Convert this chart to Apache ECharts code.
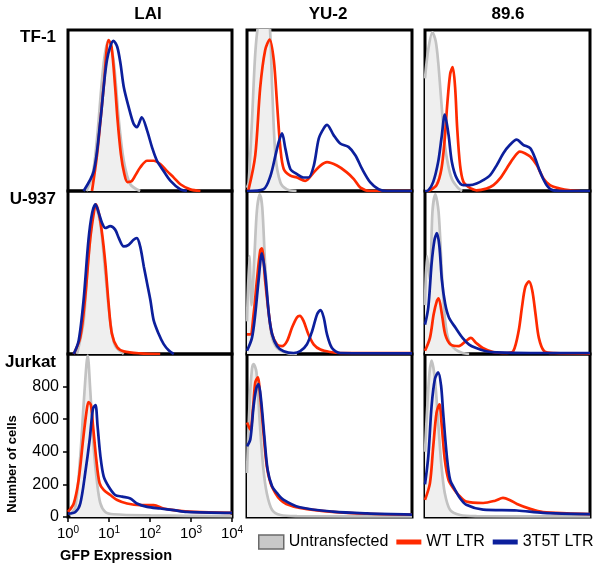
<!DOCTYPE html>
<html>
<head>
<meta charset="utf-8">
<script src="https://cdn.jsdelivr.net/npm/echarts@6/dist/echarts.min.js"></script>
<style>
html,body{margin:0;padding:0;background:#fff;}
#chart{width:600px;height:565px;}
</style>
</head>
<body>
<div id="chart"></div>
<script>
// ---- labels / ticks ----
const columns = ['LAI', 'YU-2', '89.6'];
const rows = ['TF-1', 'U-937', 'Jurkat'];
const seriesNames = ['Untransfected', 'WT LTR', '3T5T LTR'];
const xTicks = [0, 1, 2, 3, 4];           // log10 of GFP expression (10^0 .. 10^4)
const yTicks = [0, 200, 400, 600, 800];   // number of cells

// ---- data: [log10(GFP), number of cells] ----
// TF-1
const tf1_lai_untr = [[0.45,0],[0.6,100],[0.71,333],[0.87,792],[0.99,937],[1.11,813],[1.24,438],[1.36,188],[1.52,42],[1.76,0]];
const tf1_lai_wt = [[0.585,0],[0.71,229],[0.87,646],[0.99,937],[1.06,900],[1.15,646],[1.21,438],[1.29,229],[1.37,110],[1.45,55],[1.55,60],[1.65,100],[1.76,146],[1.93,188],[2.09,188],[2.25,167],[2.41,125],[2.58,83],[2.74,42],[2.98,10],[3.23,0]];
const tf1_lai_3t5t = [[0.38,0],[0.63,125],[0.79,438],[0.95,813],[1.11,933],[1.2,896],[1.28,792],[1.36,646],[1.48,521],[1.6,417],[1.68,396],[1.8,458],[1.93,375],[2.05,271],[2.17,188],[2.33,125],[2.5,63],[2.74,10],[2.9,0]];

const tf1_yu2_untr = [[0,20],[0.04,53],[0.12,432],[0.2,853],[0.28,1050],[0.4,1150],[0.53,1100],[0.61,640],[0.69,221],[0.81,53],[0.97,10],[1.2,0]];
const tf1_yu2_wt = [[0,5],[0.04,11],[0.2,221],[0.32,642],[0.44,874],[0.55,941],[0.65,811],[0.73,537],[0.81,263],[0.89,137],[1.05,95],[1.21,84],[1.41,63],[1.62,116],[1.78,158],[1.94,179],[2.18,158],[2.42,116],[2.59,74],[2.75,21],[2.99,0],[4,0]];
const tf1_yu2_3t5t = [[0,0],[0.4,11],[0.57,95],[0.69,221],[0.77,305],[0.85,358],[0.93,263],[1.05,137],[1.21,105],[1.37,84],[1.49,84],[1.62,158],[1.74,326],[1.86,389],[1.94,411],[2.1,347],[2.26,295],[2.46,274],[2.63,221],[2.79,137],[2.99,53],[3.19,11],[3.39,0],[4,0]];

const tf1_896_untr = [[0,700],[0.08,880],[0.18,985],[0.26,930],[0.32,800],[0.4,540],[0.48,290],[0.57,150],[0.66,70],[0.8,20],[0.9,0]];
const tf1_896_wt = [[0.05,0],[0.12,4],[0.28,36],[0.4,140],[0.48,329],[0.54,539],[0.61,727],[0.67,769],[0.73,644],[0.78,392],[0.85,161],[0.93,57],[1.05,25],[1.25,4],[1.49,15],[1.66,36],[1.82,78],[1.98,140],[2.14,203],[2.3,245],[2.42,235],[2.55,214],[2.71,161],[2.87,78],[3.03,36],[3.27,15],[3.52,4],[3.76,0]];
const tf1_896_3t5t = [[0,0],[0.08,4],[0.2,57],[0.32,182],[0.4,329],[0.48,474],[0.57,350],[0.65,182],[0.77,78],[0.93,36],[1.09,36],[1.25,46],[1.41,67],[1.58,99],[1.74,161],[1.9,235],[2.06,287],[2.22,319],[2.38,287],[2.55,266],[2.67,203],[2.79,119],[2.95,36],[3.11,4],[3.35,0],[4,0]];

// U-937
const u937_lai_untr = [[0.22,0],[0.38,200],[0.5,600],[0.67,910],[0.79,800],[0.91,500],[1.03,200],[1.15,50],[1.36,0]];
const u937_lai_wt = [[0.14,0],[0.3,103],[0.42,351],[0.54,701],[0.63,866],[0.68,918],[0.75,866],[0.83,742],[0.91,557],[0.99,309],[1.07,124],[1.2,41],[1.36,16],[1.76,4],[2.25,0]];
const u937_lai_3t5t = [[0.14,0],[0.26,82],[0.38,330],[0.5,701],[0.59,866],[0.67,918],[0.75,866],[0.83,804],[0.91,773],[1.03,784],[1.15,763],[1.24,711],[1.36,660],[1.48,670],[1.6,701],[1.68,711],[1.76,660],[1.85,536],[1.93,433],[2.01,330],[2.09,206],[2.21,124],[2.33,62],[2.46,21],[2.58,0]];

const u937_yu2_untr = [[0,200],[0.06,600],[0.11,300],[0.18,600],[0.24,880],[0.31,979],[0.37,900],[0.44,550],[0.53,240],[0.61,100],[0.73,37],[0.97,6],[1.21,0]];
const u937_yu2_wt = [[0,120],[0.08,120],[0.16,244],[0.24,451],[0.32,634],[0.36,648],[0.44,451],[0.53,244],[0.61,120],[0.73,58],[0.85,48],[0.97,79],[1.09,161],[1.21,224],[1.28,234],[1.37,203],[1.49,120],[1.62,58],[1.78,27],[2.02,12],[2.26,6],[4,6]];
const u937_yu2_3t5t = [[0,20],[0.12,99],[0.2,244],[0.28,451],[0.36,617],[0.44,493],[0.53,244],[0.61,120],[0.73,48],[0.89,17],[1.13,6],[1.29,17],[1.45,58],[1.58,141],[1.7,244],[1.78,269],[1.86,224],[1.94,120],[2.06,37],[2.26,6],[4,4]];

const u937_896_untr = [[0,300],[0.05,600],[0.12,450],[0.18,870],[0.25,979],[0.33,870],[0.41,493],[0.49,203],[0.58,79],[0.74,27],[0.91,6],[1.07,0]];
const u937_896_wt = [[0,20],[0.12,99],[0.21,244],[0.29,327],[0.33,342],[0.41,244],[0.49,120],[0.62,58],[0.82,48],[0.99,79],[1.11,99],[1.24,68],[1.4,37],[1.65,12],[1.98,6],[2.14,17],[2.27,141],[2.35,286],[2.43,410],[2.52,445],[2.6,389],[2.68,244],[2.76,99],[2.89,17],[3.13,6],[4,4]];
const u937_896_3t5t = [[0,180],[0.08,286],[0.16,555],[0.23,700],[0.29,741],[0.35,658],[0.41,451],[0.49,306],[0.58,224],[0.74,161],[0.91,99],[1.07,58],[1.24,37],[1.48,17],[1.73,10],[2.56,6],[4,6]];

// Jurkat
const jur_lai_untr = [[0.06,20],[0.18,62],[0.3,374],[0.38,686],[0.45,936],[0.48,990],[0.54,790],[0.63,416],[0.71,208],[0.79,83],[0.91,31],[1.11,17],[2.01,10],[4,5]];
const jur_lai_wt = [[0,31],[0.14,83],[0.26,229],[0.37,478],[0.45,644],[0.5,705],[0.56,686],[0.61,561],[0.69,353],[0.77,208],[0.87,166],[1.03,135],[1.2,104],[1.44,83],[1.76,73],[2.09,73],[2.33,52],[2.58,42],[3.07,31],[4,25]];
const jur_lai_3t5t = [[0,21],[0.18,31],[0.3,83],[0.42,270],[0.53,478],[0.61,665],[0.67,686],[0.72,561],[0.79,374],[0.87,249],[0.99,187],[1.15,135],[1.32,125],[1.52,114],[1.68,83],[1.93,62],[2.25,52],[2.58,42],[2.9,31],[4,25]];

const jur_yu2_untr = [[0,270],[0.06,681],[0.12,907],[0.16,938],[0.23,887],[0.31,578],[0.39,311],[0.48,146],[0.61,43],[0.81,12],[1.21,5],[4,3]];
const jur_yu2_wt = [[0,580],[0.08,536],[0.15,680],[0.2,825],[0.26,856],[0.32,743],[0.4,516],[0.48,311],[0.57,208],[0.69,146],[0.81,105],[0.95,80],[1.28,56],[2.08,31],[2.91,20],[4,15]];
const jur_yu2_3t5t = [[0,434],[0.08,475],[0.16,681],[0.23,794],[0.28,815],[0.34,722],[0.42,496],[0.5,290],[0.61,187],[0.73,146],[0.89,105],[1.28,60],[2.08,33],[2.91,22],[4,15]];

const jur_896_untr = [[0,400],[0.06,700],[0.11,887],[0.16,959],[0.24,846],[0.32,578],[0.4,311],[0.48,146],[0.61,43],[0.85,12],[1.25,5],[4,3]];
const jur_896_wt = [[0,105],[0.12,208],[0.2,434],[0.28,640],[0.35,691],[0.4,578],[0.48,352],[0.57,228],[0.69,175],[0.81,136],[1.0,95],[1.41,86],[1.7,100],[1.89,117],[2.05,105],[2.23,80],[2.55,50],[2.86,30],[3.44,22],[4,18]];
const jur_896_3t5t = [[0,200],[0.08,372],[0.16,681],[0.24,846],[0.32,887],[0.39,805],[0.44,640],[0.53,372],[0.61,228],[0.73,167],[0.85,115],[1.0,75],[1.41,45],[2.23,40],[2.86,25],[4,18]];

const panels = [
  [tf1_lai_untr, tf1_lai_wt, tf1_lai_3t5t],
  [tf1_yu2_untr, tf1_yu2_wt, tf1_yu2_3t5t],
  [tf1_896_untr, tf1_896_wt, tf1_896_3t5t],
  [u937_lai_untr, u937_lai_wt, u937_lai_3t5t],
  [u937_yu2_untr, u937_yu2_wt, u937_yu2_3t5t],
  [u937_896_untr, u937_896_wt, u937_896_3t5t],
  [jur_lai_untr, jur_lai_wt, jur_lai_3t5t],
  [jur_yu2_untr, jur_yu2_wt, jur_yu2_3t5t],
  [jur_896_untr, jur_896_wt, jur_896_3t5t]
];

// ---- layout ----
const FONT = "'Liberation Sans', Arial, Helvetica, sans-serif";
const colLeft = [68, 247, 425];
const colWidth = [164, 165, 165];
const rowTop = [30, 191, 354];
const rowHeight = [161, 163, 163];
const colors = ['#c2c2c2', '#ff2a00', '#0c1f9c'];
const fillGray = '#efefef';

const grids = [], xAxes = [], yAxes = [], series = [];
for (let r = 0; r < 3; r++) {
  for (let c = 0; c < 3; c++) {
    const i = r * 3 + c;
    const labeled = (r === 2 && c === 0);
    grids.push({
      left: colLeft[c], top: rowTop[r], width: colWidth[c], height: rowHeight[r],
      show: true, borderColor: '#000', borderWidth: 3, backgroundColor: 'transparent'
    });
    xAxes.push({
      gridIndex: i, type: 'value', min: 0, max: 4, interval: 1,
      show: labeled,
      axisLine: { show: false },
      splitLine: { show: false },
      axisTick: { show: true, length: 5, customValues: xTicks, lineStyle: { color: '#000', width: 1.5 } },
      axisLabel: {
        customValues: xTicks, margin: 8, color: '#000',
        formatter: v => '{b|10}{s|' + v + '}',
        rich: {
          b: { fontSize: 15, fontFamily: FONT, color: '#000', lineHeight: 18 },
          s: { fontSize: 10, fontFamily: FONT, color: '#000', verticalAlign: 'top', lineHeight: 12 }
        }
      }
    });
    yAxes.push({
      gridIndex: i, type: 'value', min: 0, max: 1000, interval: 200,
      show: labeled,
      axisLine: { show: false },
      splitLine: { show: false },
      axisTick: { show: true, length: 5, customValues: yTicks, lineStyle: { color: '#000', width: 1.5 } },
      axisLabel: { customValues: yTicks, margin: 9, fontSize: 16, fontFamily: FONT, color: '#000' }
    });
    for (let k = 0; k < 3; k++) {
      const s = {
        type: 'line', name: seriesNames[k], xAxisIndex: i, yAxisIndex: i,
        data: panels[i][k], symbol: 'none', showSymbol: false,
        smooth: 0.3, clip: true, silent: true, animation: false,
        color: colors[k],
        itemStyle: { color: colors[k] },
        lineStyle: { color: colors[k], width: 2.7 },
        z: 2 + k
      };
      if (k === 0) s.areaStyle = { color: fillGray, opacity: 1 };
      series.push(s);
    }
  }
}

const texts = [];
const colCenters = [148, 328, 508];
columns.forEach((t, c) => texts.push({
  type: 'text', x: colCenters[c], y: 14,
  style: { text: t, fontSize: 17, fontWeight: 'bold', fontFamily: FONT, fill: '#000',
           align: 'center', verticalAlign: 'middle', textAlign: 'center', textVerticalAlign: 'middle' }
}));
const rowY = [37, 199, 362];
rows.forEach((t, r) => texts.push({
  type: 'text', x: 56, y: rowY[r],
  style: { text: t, fontSize: 17, fontWeight: 'bold', fontFamily: FONT, fill: '#000',
           align: 'right', verticalAlign: 'middle', textAlign: 'right', textVerticalAlign: 'middle' }
}));
texts.push({
  type: 'text', x: 12, y: 464, rotation: Math.PI / 2,
  style: { text: 'Number of cells', fontSize: 13, fontWeight: 'bold', fontFamily: FONT, fill: '#000',
           align: 'center', verticalAlign: 'middle', textAlign: 'center', textVerticalAlign: 'middle' }
});
texts.push({
  type: 'text', x: 116, y: 556,
  style: { text: 'GFP Expression', fontSize: 14.5, fontWeight: 'bold', fontFamily: FONT, fill: '#000',
           align: 'center', verticalAlign: 'middle', textAlign: 'center', textVerticalAlign: 'middle' }
});

const lineIcon = 'path://M0,0M25,14M0,4.5h25v5h-25z';
const option = {
  animation: false,
  backgroundColor: '#fff',
  grid: grids,
  xAxis: xAxes,
  yAxis: yAxes,
  series: series,
  legend: {
    left: 258, top: 534, width: 342, padding: 0,
    itemWidth: 25, itemHeight: 14, itemGap: 8,
    selectedMode: false,
    textStyle: { fontSize: 16, fontFamily: FONT, color: '#000' },
    data: [
      { name: seriesNames[0], icon: 'rect', itemStyle: { color: '#c8c8c8', borderColor: '#6a6a6a', borderWidth: 1.5 } },
      { name: seriesNames[1], icon: lineIcon, itemStyle: { color: colors[1], borderWidth: 0 } },
      { name: seriesNames[2], icon: lineIcon, itemStyle: { color: colors[2], borderWidth: 0 } }
    ]
  },
  graphic: texts
};

const chart = echarts.init(document.getElementById('chart'), null, { renderer: 'canvas' });
chart.setOption(option);
</script>
</body>
</html>
